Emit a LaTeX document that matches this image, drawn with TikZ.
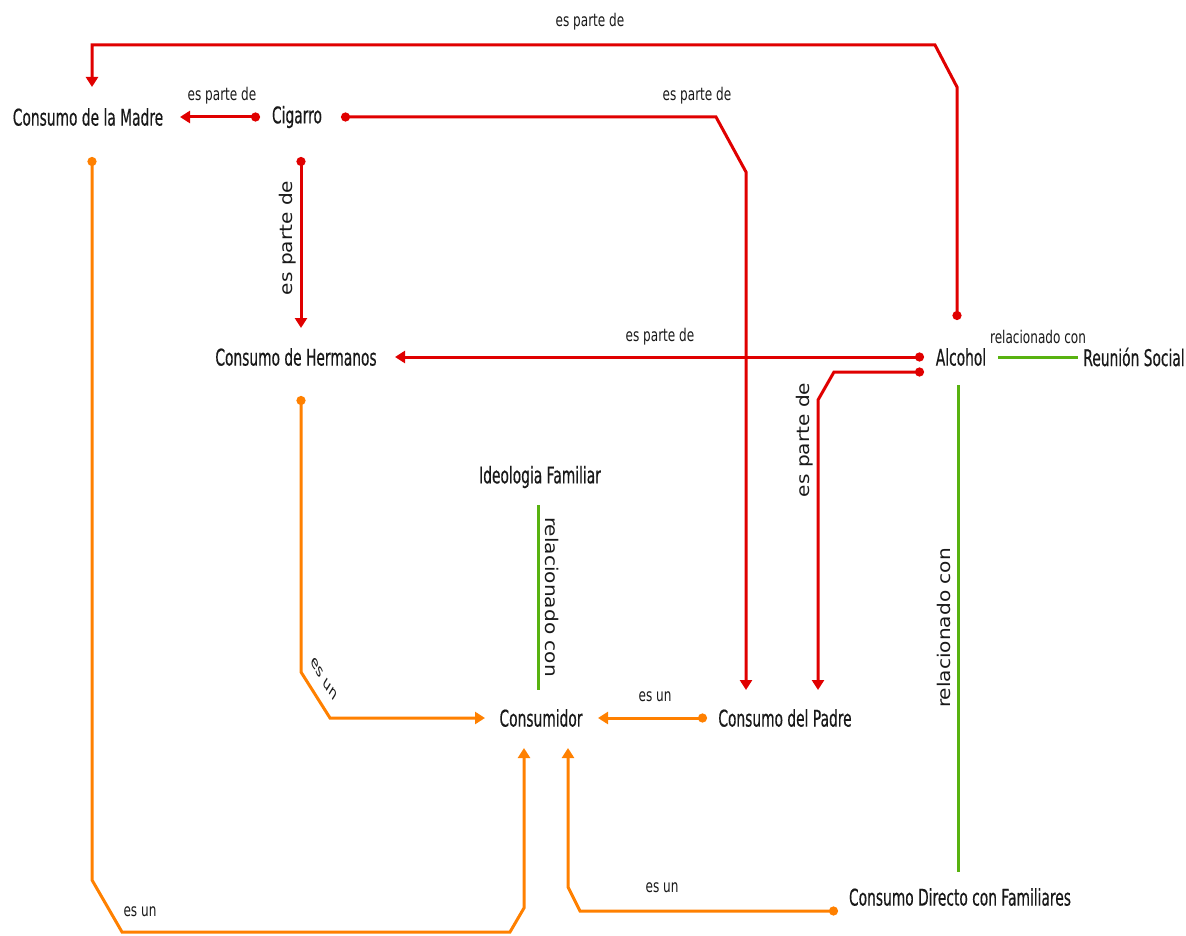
\documentclass[tikz,border=0pt]{standalone}
\usepackage{fontspec}
\newfontfamily\cfont{DejaVu Sans}[FakeStretch=0.6,FakeBold=0.4]
\newfontfamily\lfont{DejaVu Sans}[FakeStretch=0.69]
\newfontfamily\vfont{DejaVu Sans}[FakeStretch=1.15]
\usetikzlibrary{arrows.meta,calc}
\definecolor{cred}{RGB}{224,0,0}
\definecolor{corange}{RGB}{255,128,0}
\definecolor{cgreen}{RGB}{88,178,16}
\definecolor{ctext}{RGB}{25,25,25}
\begin{document}
\begin{tikzpicture}[x=1pt,y=-1pt,
  concept/.style={font=\cfont\fontsize{23}{25}\selectfont, text=ctext, inner sep=0pt},
  lbl/.style={font=\lfont\fontsize{17.5}{20}\selectfont, text=ctext, inner sep=0pt},
  vlbl/.style={font=\vfont\fontsize{17.5}{20}\selectfont, text=ctext, inner sep=0pt},
  redl/.style={draw=cred, line width=3pt, {Circle[length=9pt]}-{Triangle[length=10pt,width=12pt]}},
  orl/.style={draw=corange, line width=3pt, {Circle[length=9pt]}-{Triangle[length=10pt,width=12pt]}},
  grl/.style={draw=cgreen, line width=3pt}]
\useasboundingbox (0,0) rectangle (1186,936);
% nodes
\node[concept] (madre) at (88,117) {Consumo de la Madre};
\node[concept] (cig) at (297,117) {Cigarro};
\node[concept] (herm) at (296,357) {Consumo de Hermanos};
\node[concept] (alc) at (961,357) {Alcohol};
\node[concept] (reun) at (1134,357) {Reunión Social};
\node[concept] (ideo) at (540,477) {Ideologia Familiar};
\node[concept] (cons) at (541,718) {Consumidor};
\node[concept] (padre) at (785,718) {Consumo del Padre};
\node[concept] (directo) at (960,897) {Consumo Directo con Familiares};
% red connectors
\draw[redl] ($(alc)+(-4,-37)$) -- (957,87) -- (935,45) -- (92,45) -- ($(madre)+(4,-30)$);
\node[lbl] (l1) at (590,22) {es parte de};
\draw[redl] ($(cig)+(-37,0)$) -- ($(madre)+(92,0)$);
\node[lbl] (l2) at (222,96) {es parte de};
\draw[redl] ($(cig)+(44,0)$) -- (716,117) -- (746,172) -- ($(padre)+(-39,-28)$);
\node[lbl] (l3) at (697,96) {es parte de};
\draw[redl] ($(cig)+(4,40)$) -- ($(herm)+(5,-29)$);
\node[vlbl,rotate=90] (l4) at (288,238) {es parte de};
\draw[redl] ($(alc)+(-37,0)$) -- ($(herm)+(99,0)$);
\node[lbl] (l5) at (660,337) {es parte de};
\draw[redl] ($(alc)+(-37,15)$) -- (834,372) -- (818,400) -- ($(padre)+(33,-28)$);
\node[vlbl,rotate=90] (l6) at (805,440) {es parte de};
% green connectors
\draw[grl] ($(alc)+(37,0)$) -- ($(reun)+(-56,0)$);
\node[lbl] (l7) at (1038,337) {relacionado con};
\draw[grl] ($(alc)+(-3,28)$) -- ($(directo)+(-2,-25)$);
\node[vlbl,rotate=90] (l8) at (944,628) {relacionado con};
\draw[grl] ($(ideo)+(-2,28)$) -- ($(cons)+(-3,-28)$);
\node[vlbl,rotate=-90] (l9) at (552,597) {relacionado con};
% orange connectors
\draw[orl] ($(madre)+(4,40)$) -- (92,880) -- (122,932) -- (510,932) -- (524,908) -- ($(cons)+(-17,30)$);
\node[lbl] (l10) at (140,912) {es un};
\draw[orl] ($(herm)+(5,39)$) -- (301,672) -- (330,718) -- ($(cons)+(-56,0)$);
\begin{scope}[xscale=0.6, transform shape]
\node[vlbl,rotate=-46] (l11) at (324/0.6,679) {es un};
\end{scope}
\draw[orl] ($(padre)+(-78,0)$) -- ($(cons)+(57,0)$);
\node[lbl] (l12) at (655,697) {es un};
\draw[orl] ($(directo)+(-122,14)$) -- (580,911) -- (568,887) -- ($(cons)+(27,30)$);
\node[lbl] (l13) at (662,888) {es un};
\end{tikzpicture}
\end{document}
